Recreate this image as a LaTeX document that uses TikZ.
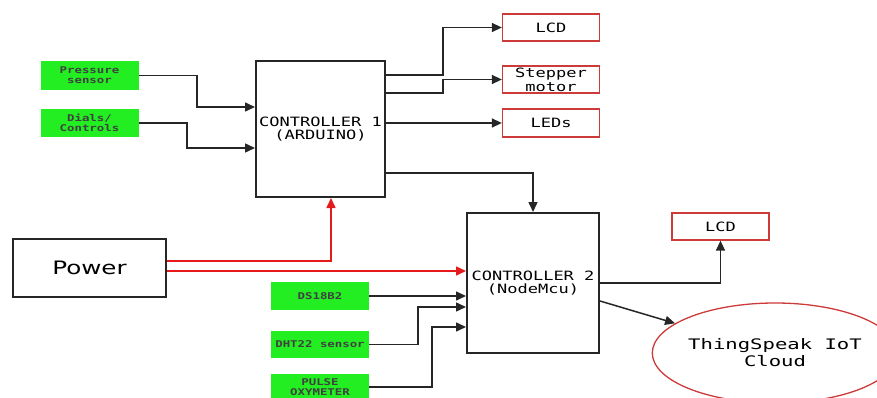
\documentclass[tikz,border=0pt]{standalone}
\usepackage{fontspec}
\usetikzlibrary{arrows.meta,shapes.geometric}
\newfontfamily\mymono[FakeStretch=1.33]{DejaVu Sans Mono}
\newfontfamily\mymonowide[FakeStretch=1.42]{DejaVu Sans Mono}
\newfontfamily\mysans[FakeStretch=1.33]{DejaVu Sans}
\definecolor{gbox}{HTML}{22EE22}
\definecolor{rbox}{HTML}{CC3A3A}
\definecolor{rline}{HTML}{E51B1B}
\begin{document}
\begin{tikzpicture}[x=1pt,y=-1pt,
  ctrl/.style={draw=black!85,line width=2pt,fill=white,inner sep=0pt,align=center,font=\mymono\fontsize{12.8}{13}\selectfont},
  gbx/.style={fill=gbox,draw=none,inner sep=0pt,align=center,text=black!75,font=\mymono\bfseries\fontsize{9.3}{9.8}\selectfont,minimum width=98pt},
  rbx/.style={draw=rbox,line width=1.3pt,fill=white,inner sep=0pt,align=center,font=\mymono\fontsize{12.8}{14}\selectfont,minimum width=97pt},
  arr/.style={draw=black!85,line width=1.5pt,-{Triangle[length=10pt,width=9pt]}},
  rarr/.style={draw=rline,line width=1.5pt,-{Triangle[length=10pt,width=9pt]}}]
\useasboundingbox (0,0) rectangle (877,398);
\begin{scope}
\clip (0,0) rectangle (877,398);
% nodes
\node[ctrl,minimum width=129pt,minimum height=136pt] (c1) at (320.5,129) {CONTROLLER 1\\(ARDUINO)};
\node[ctrl,minimum width=132pt,minimum height=140pt] (c2) at (533,283) {CONTROLLER 2\\(NodeMcu)};
\node[draw=black!85,line width=1.6pt,minimum width=153pt,minimum height=58pt,inner sep=0pt,font=\mysans\fontsize{18.5}{19}\selectfont] (pw) at (89.5,268) {Power};
\node[gbx,minimum height=29pt] (ps) at (89.5,75.5) {Pressure\\sensor};
\node[gbx,minimum height=28pt] (dc) at (89.5,123) {Dials/\\Controls};
\node[gbx,minimum height=28pt] (ds) at (320,296) {DS18B2};
\node[gbx,minimum height=27pt] (dht) at (320,344.5) {DHT22 sensor};
\node[gbx,minimum height=26pt] (pox) at (320,387) {PULSE\\OXYMETER};
\node[rbx,minimum height=27pt] (lcd1) at (551,27.5) {LCD};
\node[rbx,minimum height=27pt] (stp) at (551,79.5) {Stepper\\motor};
\node[rbx,minimum height=28pt] (leds) at (551,123) {LEDs};
\node[rbx,minimum height=27pt] (lcd2) at (720.5,226.5) {LCD};
\node[ellipse,draw=rbox,line width=1.3pt,minimum width=206pt,minimum height=100pt,inner sep=0pt,align=center,font=\mymonowide\fontsize{14.5}{17}\selectfont] (cloud) at (775,353) {ThingSpeak IoT\\Cloud};
% inputs to controller 1
\draw[arr] (ps.east) -- (197,75.5) |- (c1.west |- 0,107);
\draw[arr] (dc.east) -- (187,123) |- (c1.west |- 0,148);
% outputs of controller 1
\draw[arr] (c1.east |- 0,75) -- (443,75) |- (lcd1.west);
\draw[arr] (c1.east |- 0,93) -- (443,93) |- (stp.west);
\draw[arr] (c1.east |- leds.west) -- (leds.west);
\draw[arr] (c1.east |- 0,173) -| (c2.north);
% power
\draw[rarr] (pw.east |- 0,261) -| (c1.south -| 331,0);
\draw[rarr] (pw.east |- 0,271) -- (c2.west |- 0,271);
% sensors to controller 2
\draw[arr] (ds.east) -- (c2.west |- ds.east);
\draw[arr] (dht.east) -- (418,344.5) |- (c2.west |- 0,307);
\draw[arr] (pox.east) -- (432,387) |- (c2.west |- 0,327);
% controller 2 outputs
\draw[arr] (c2.east |- 0,283) -| (lcd2.south);
\draw[arr] (c2.east |- 0,301) -- (cloud);
\end{scope}
\end{tikzpicture}
\end{document}
